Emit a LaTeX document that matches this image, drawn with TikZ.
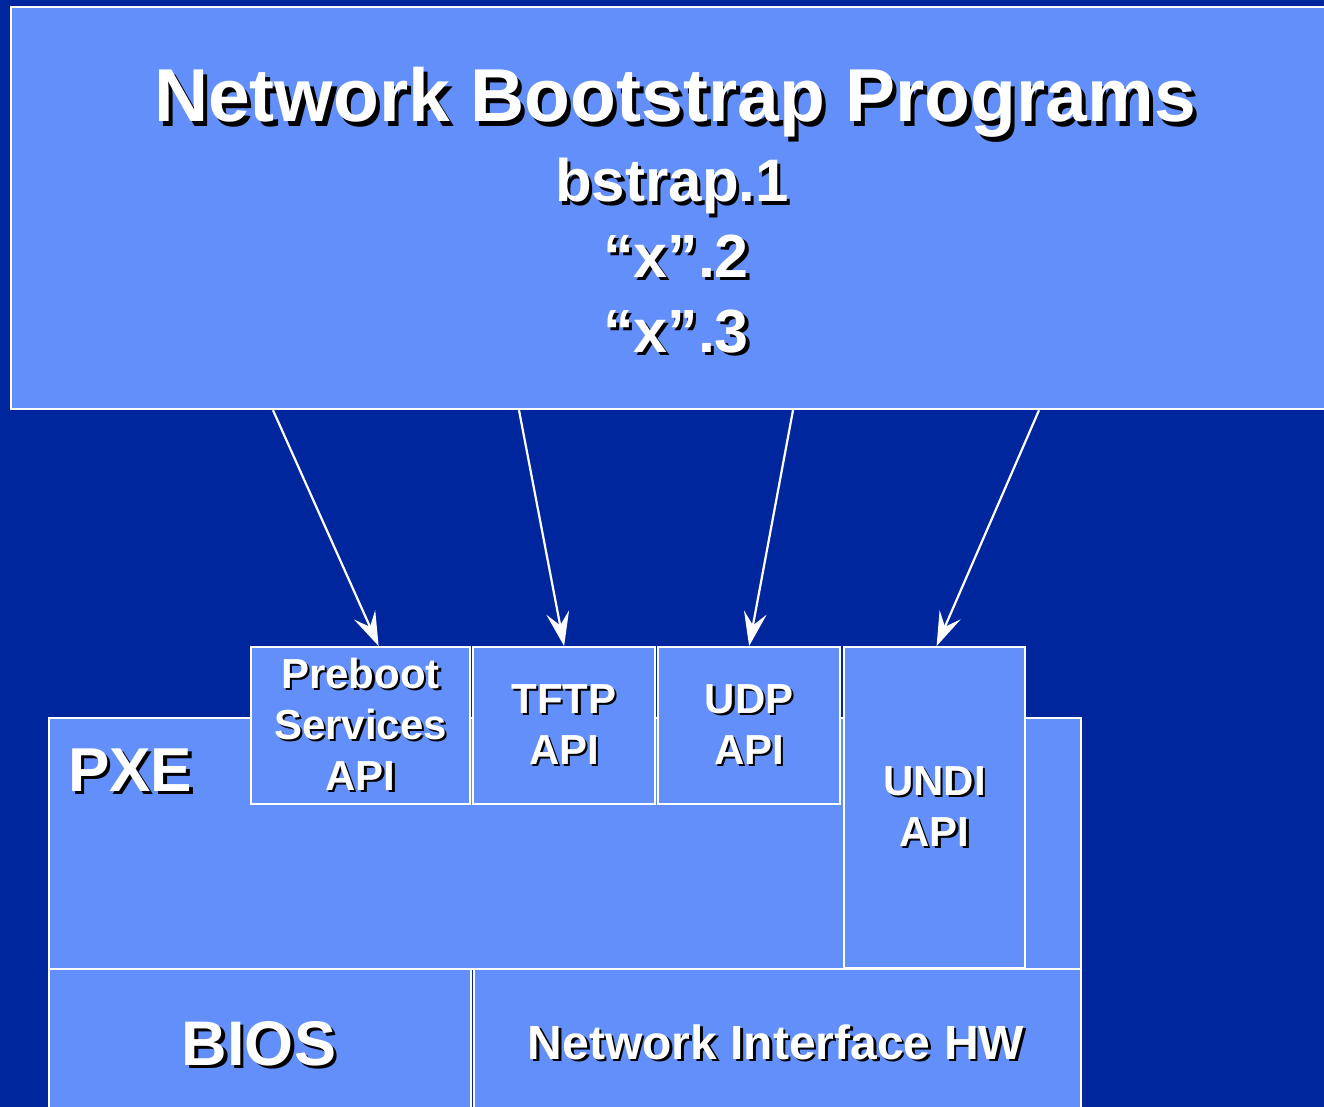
\documentclass[tikz,border=0pt]{standalone}
\usepackage{fontspec}
\setmainfont{Liberation Sans}
\usetikzlibrary{arrows.meta,calc}
\definecolor{slidebg}{RGB}{0,38,158}
\definecolor{panelblue}{RGB}{99,143,250}
% white lettering with a black drop shadow
\newcommand\shd[1]{\leavevmode\rlap{\kern.055em\raisebox{-.055em}{\color{black}#1}}#1}
\begin{document}
\begin{tikzpicture}[x=1pt,y=-1pt,
  panel/.style={draw=white,line width=2.2pt,fill=panelblue,rectangle,anchor=north west,inner sep=0pt},
  apibox/.style={panel,align=center,text=white,font=\bfseries\fontsize{42}{51}\selectfont},
  lbl/.style={text=white,inner sep=0pt,anchor=base},
  link/.style={draw=white,line width=2.2pt,-{Stealth[length=34pt,width=23pt,inset=13pt]}}]
\useasboundingbox (0,0) rectangle (1324,1107);
\clip (0,0) rectangle (1324,1107);
\fill[slidebg] (0,0) rectangle (1324,1107);

% programs panel
\node[panel,minimum width=1340pt,minimum height=402pt] (top) at (10,6) {};
\node[lbl,font=\bfseries\fontsize{75}{75}\selectfont] (ttl) at (675,122) {\shd{Network Bootstrap Programs}};
\node[lbl,font=\bfseries\fontsize{60}{60}\selectfont] (p1) at (672,202) {\shd{bstrap.1}};
\node[lbl,font=\bfseries\fontsize{61}{61}\selectfont] (p2) at (676,277) {\shd{“x”.2}};
\node[lbl,font=\bfseries\fontsize{61}{61}\selectfont] (p3) at (676,352) {\shd{“x”.3}};

% PXE layer and its interfaces
\node[panel,minimum width=1032pt,minimum height=251pt] (pxe) at (48,717) {};
\node[lbl,anchor=base west,font=\bfseries\fontsize{62}{62}\selectfont] (pxet) at (68,791) {\shd{PXE}};
\node[apibox,minimum width=219pt,minimum height=157pt] (pre) at (250,646) {\shd{Preboot}\\\shd{Services}\\\shd{API}};
\node[apibox,minimum width=182pt,minimum height=157pt] (tftp) at (472,646) {\shd{TFTP}\\\shd{API}};
\node[apibox,minimum width=182pt,minimum height=157pt] (udp) at (657,646) {\shd{UDP}\\\shd{API}};
\node[apibox,minimum width=181pt,minimum height=321pt] (undi) at (843,646) {\shd{UNDI}\\\shd{API}};

% firmware and hardware
\node[panel,minimum width=422pt,minimum height=160pt] (bios) at (48,968) {};
\node[panel,minimum width=607pt,minimum height=160pt] (nic) at (473,968) {};
\node[lbl,font=\bfseries\fontsize{63}{63}\selectfont] (biost) at (259,1065) {\shd{BIOS}};
\node[lbl,font=\bfseries\fontsize{48}{48}\selectfont] (nict) at (776,1059) {\shd{Network Interface HW}};

% calls from the programs into the APIs
\coordinate (a1) at ($(top.south west)+(263,0)$);
\coordinate (a2) at ($(top.south west)+(509,0)$);
\coordinate (a3) at ($(top.south west)+(783,0)$);
\coordinate (a4) at ($(top.south west)+(1029,0)$);
\draw[link] (a1) -- ([xshift=18pt]pre.north);
\draw[link] (a2) -- (tftp.north);
\draw[link] (a3) -- (udp.north);
\draw[link] (a4) -- ([xshift=2pt]undi.north);
\end{tikzpicture}
\end{document}
